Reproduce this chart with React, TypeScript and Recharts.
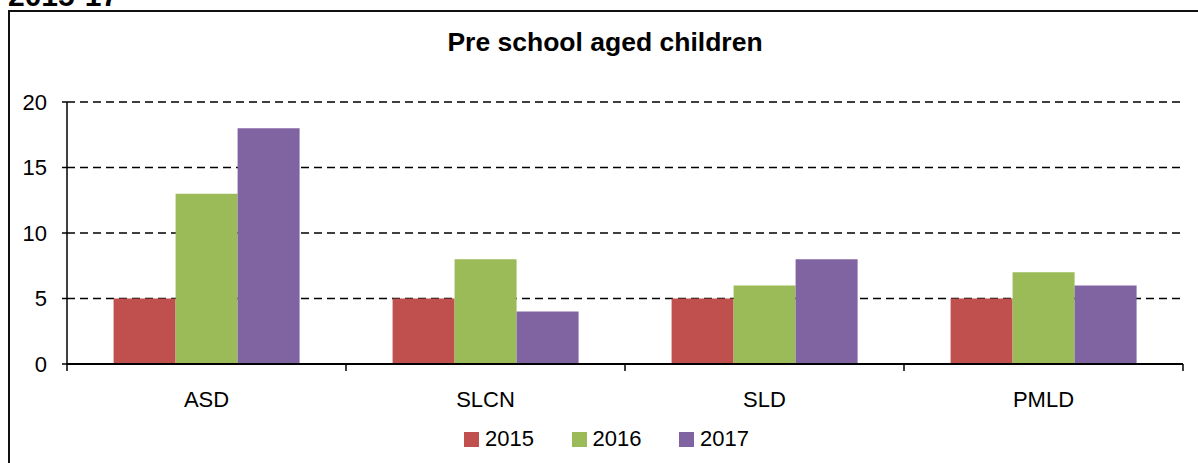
import React from "react"
import { BarChart, Bar, XAxis, YAxis, CartesianGrid } from "recharts"

const categories = ["ASD", "SLCN", "SLD", "PMLD"]
const values2015 = [5, 5, 5, 5]
const values2016 = [13, 8, 6, 7]
const values2017 = [18, 4, 8, 6]
const yTicks = [0, 5, 10, 15, 20]
const edgeTicks = [0, 1, 2, 3, 4]

const series = [
  { key: "y2015", name: "2015", color: "#C0504D", values: values2015 },
  { key: "y2016", name: "2016", color: "#9BBB59", values: values2016 },
  { key: "y2017", name: "2017", color: "#8064A2", values: values2017 },
]

const data = categories.map((cat, i) => {
  const row: Record<string, any> = { name: cat, pos: i + 0.5 }
  series.forEach((s) => {
    row[s.key] = s.values[i]
  })
  return row
})

const font = "'Liberation Sans', Arial, sans-serif"

const EmptyTick = () => <g />

export default function App() {
  return (
    <div
      style={{
        position: "absolute",
        left: 0,
        top: 0,
        width: 1198,
        height: 463,
        overflow: "hidden",
        background: "#fff",
        fontFamily: font,
      }}
    >
      <div
        style={{
          position: "absolute",
          left: 8,
          top: -19,
          fontSize: 30,
          lineHeight: "30px",
          fontWeight: "bold",
          color: "#000",
        }}
      >
        2015-17
      </div>
      <div
        style={{
          position: "absolute",
          left: 8,
          top: 10,
          width: 1210,
          height: 480,
          border: "2px solid #111",
        }}
      />
      <div
        style={{
          position: "absolute",
          left: 0,
          top: 26,
          width: 1210,
          textAlign: "center",
          fontSize: 26.5,
          lineHeight: "32px",
          fontWeight: "bold",
          color: "#000",
        }}
      >
        Pre school aged children
      </div>
      <div style={{ position: "absolute", left: 0, top: 0 }}>
        <BarChart
          width={1198}
          height={463}
          data={data}
          margin={{ top: 102, right: 15, bottom: 0, left: 17 }}
          barCategoryGap="16.7%"
          barGap={0}
        >
          <CartesianGrid
            xAxisId="cat"
            horizontal
            vertical={false}
            stroke="#000"
            strokeWidth={1.5}
            strokeDasharray="8 5"
          />
          {/* axis line + boundary ticks between categories */}
          <XAxis
            dataKey="pos"
            type="number"
            domain={[0, 4]}
            ticks={edgeTicks}
            tick={EmptyTick}
            axisLine={{ stroke: "#000", strokeWidth: 2 }}
            tickLine={{ stroke: "#000", strokeWidth: 1.5 }}
            tickSize={7}
            height={1}
            allowDataOverflow
          />
          <XAxis
            xAxisId="cat"
            dataKey="name"
            tickLine={false}
            axisLine={false}
            tick={{ fill: "#000", fontSize: 22, fontFamily: font }}
            tickSize={6}
            tickMargin={20}
            height={98}
            interval={0}
          />
          <YAxis
            domain={[0, 20]}
            ticks={yTicks}
            width={50}
            axisLine={{ stroke: "#000", strokeWidth: 1.5 }}
            tickLine={{ stroke: "#000", strokeWidth: 1.5 }}
            tickSize={5}
            tickMargin={15}
            tick={{ fill: "#000", fontSize: 22, fontFamily: font }}
          />
          {series.map((s) => (
            <Bar
              key={s.key}
              xAxisId="cat"
              dataKey={s.key}
              name={s.name}
              fill={s.color}
              isAnimationActive={false}
            />
          ))}
        </BarChart>
      </div>
      <div
        style={{
          position: "absolute",
          left: 464,
          top: 426,
          display: "flex",
          alignItems: "center",
          fontSize: 22,
          color: "#000",
        }}
      >
        {series.map((s) => (
          <div key={s.key} style={{ display: "flex", alignItems: "center", width: 107.5 }}>
            <span style={{ display: "inline-block", width: 15, height: 15, background: s.color, marginRight: 6 }} />
            <span>{s.name}</span>
          </div>
        ))}
      </div>
    </div>
  )
}
